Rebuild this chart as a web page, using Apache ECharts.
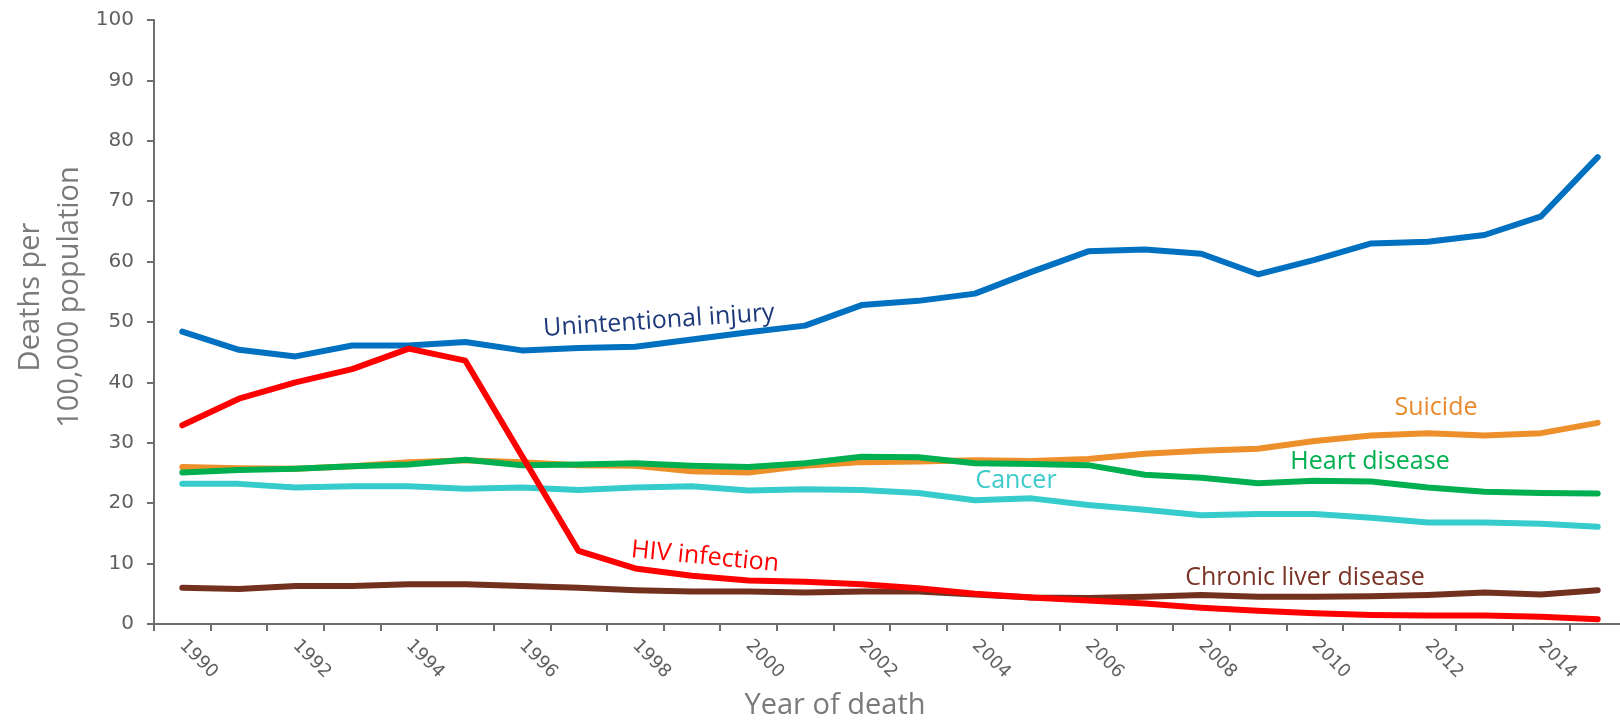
<!DOCTYPE html>
<html>
<head>
<meta charset="utf-8">
<script src="https://cdn.jsdelivr.net/npm/echarts@6/dist/echarts.min.js"></script>
<style>
    html, body { margin: 0; padding: 0; background: #fff; }
    #chart { width: 1620px; height: 725px; }
</style>
</head>
<body>
<div id="chart"></div>
<script>
// deaths per 100,000, by year of death
var years = ['1990','1991','1992','1993','1994','1995','1996','1997','1998','1999','2000','2001','2002',
    '2003','2004','2005','2006','2007','2008','2009','2010','2011','2012','2013','2014','2015'];
var injury = [48.4,45.4,44.3,46.1,46.1,46.7,45.3,45.7,45.9,47.1,48.3,49.4,52.8,53.5,54.7,58.3,61.7,62.0,61.3,57.9,60.3,63.0,63.3,64.4,67.5,77.3];
var suicide = [26.0,25.8,25.7,26.1,26.8,27.1,26.8,26.3,26.2,25.3,25.1,26.2,26.8,26.9,27.1,27.0,27.3,28.2,28.7,29.0,30.3,31.2,31.6,31.2,31.6,33.3];
var heart = [25.1,25.5,25.7,26.1,26.4,27.2,26.3,26.4,26.6,26.2,26.0,26.6,27.7,27.6,26.6,26.5,26.3,24.7,24.2,23.3,23.7,23.6,22.6,21.9,21.7,21.6];
var cancer = [23.2,23.2,22.6,22.8,22.8,22.4,22.6,22.2,22.6,22.8,22.1,22.3,22.2,21.7,20.5,20.8,19.7,18.9,18.0,18.2,18.2,17.6,16.8,16.8,16.6,16.1];
var liver = [6.0,5.8,6.3,6.3,6.6,6.6,6.3,6.0,5.6,5.4,5.4,5.2,5.4,5.4,4.9,4.4,4.3,4.5,4.8,4.5,4.5,4.6,4.8,5.2,4.9,5.6];
var hiv = [32.9,37.3,40.0,42.2,45.6,43.6,27.8,12.1,9.2,8.0,7.2,7.0,6.6,5.9,5.0,4.4,3.9,3.4,2.7,2.2,1.8,1.5,1.4,1.4,1.2,0.8];

var axisColor = '#6f6f6f';
var labelFont = 'Open Sans';

function line(name, data, color) {
    return {
        name: name,
        type: 'line',
        data: data,
        symbol: 'none',
        lineStyle: { color: color, width: 6, cap: 'round', join: 'round' },
        itemStyle: { color: color }
    };
}

// text callouts next to the lines
function callout(text, x, y, color, rot) {
    return {
        type: 'text',
        x: x,
        y: y,
        rotation: rot || 0,
        style: {
            text: text,
            fill: color,
            fontSize: 25,
            fontFamily: labelFont,
            align: 'center',
            verticalAlign: 'middle'
        }
    };
}

var myChart = echarts.init(document.getElementById('chart'));
var option = {
    animation: false,
    backgroundColor: '#ffffff',
    grid: {
        left: 154,
        top: 20,
        width: 1472,
        height: 604,
        containLabel: false,
        outerBoundsMode: 'none'
    },
    xAxis: {
        type: 'category',
        data: years,
        boundaryGap: true,
        axisLine: { lineStyle: { color: axisColor, width: 2 } },
        axisTick: { show: true, interval: 0, length: 7, lineStyle: { color: axisColor, width: 2 } },
        axisLabel: {
            interval: 1,
            rotate: -45,
            margin: 19,
            color: '#5f5f5f',
            fontSize: 18,
            fontFamily: 'DejaVu Sans'
        }
    },
    yAxis: {
        type: 'value',
        min: 0,
        max: 100,
        interval: 10,
        splitLine: { show: false },
        axisLine: { show: true, lineStyle: { color: axisColor, width: 2 } },
        axisTick: { show: true, length: 7, lineStyle: { color: axisColor, width: 2 } },
        axisLabel: {
            margin: 20,
            color: '#5f5f5f',
            fontSize: 20,
            fontFamily: 'DejaVu Sans'
        }
    },
    graphic: [
        {
            type: 'text',
            x: 50,
            y: 297,
            rotation: Math.PI / 2,
            style: {
                text: 'Deaths per\n100,000 population',
                fill: '#7a7a7a',
                fontSize: 29,
                lineHeight: 39,
                fontFamily: labelFont,
                align: 'center',
                verticalAlign: 'middle'
            }
        },
        {
            type: 'text',
            x: 835,
            y: 706,
            style: {
                text: 'Year of death',
                fill: '#7a7a7a',
                fontSize: 29,
                fontFamily: labelFont,
                align: 'center',
                verticalAlign: 'middle'
            }
        },
        callout('Unintentional injury', 659, 321, '#1f3a7a', 0.068),
        callout('HIV infection', 705, 557, '#ff0000', -0.096),
        callout('Suicide', 1436, 408, '#e88a2d'),
        callout('Heart disease', 1370, 462, '#00b050'),
        callout('Cancer', 1016, 481, '#3ccbcb'),
        callout('Chronic liver disease', 1305, 578, '#7a3325')
    ],
    series: [
        line('Unintentional injury', injury, '#0070c0'),
        line('Suicide', suicide, '#ed8f2a'),
        line('Heart disease', heart, '#00b050'),
        line('Cancer', cancer, '#36cccc'),
        line('Chronic liver disease', liver, '#72301f'),
        line('HIV infection', hiv, '#ff0000')
    ]
};
myChart.setOption(option);
</script>
</body>
</html>
